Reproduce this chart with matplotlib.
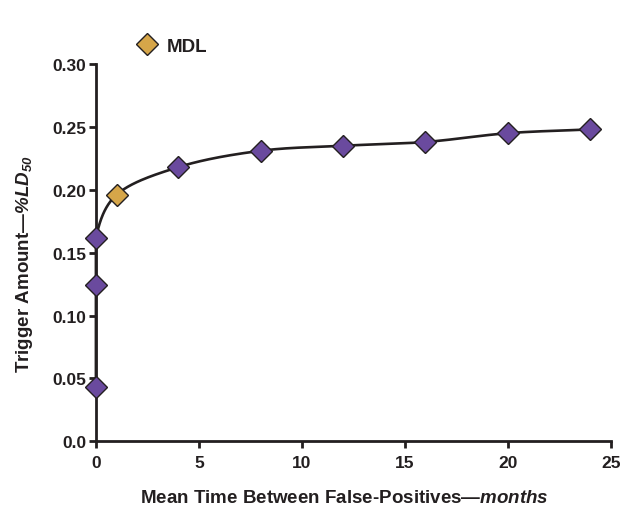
import numpy as np
import matplotlib
matplotlib.use("Agg")
import matplotlib.pyplot as plt
from matplotlib.lines import Line2D

plt.rcParams['font.family'] = ['Liberation Sans', 'DejaVu Sans']
plt.rcParams['font.weight'] = 'bold'
plt.rcParams['mathtext.fontset'] = 'custom'
plt.rcParams['mathtext.it'] = 'Liberation Sans:italic:bold'
plt.rcParams['mathtext.rm'] = 'Liberation Sans:italic:bold'

# data
months = [0, 0, 0, 1, 4, 8, 12, 16, 20, 24]
trigger = [0.043, 0.124, 0.162, 0.196, 0.218, 0.231, 0.235, 0.238, 0.245, 0.248]
is_mdl = [False, False, False, True, False, False, False, False, False, False]

x_ticks = [0, 5, 10, 15, 20, 25]
y_ticks = [0.0, 0.05, 0.10, 0.15, 0.20, 0.25, 0.30]
y_tick_labels = ["0.0", "0.05", "0.10", "0.15", "0.20", "0.25", "0.30"]

purple = '#6a4a9e'
gold = '#d6a649'
dark = '#231f20'


def catmull_rom(xs, ys, n=40):
    # centripetal Catmull-Rom through the points, in normalised units
    p = np.column_stack([np.array(xs) / 25.0, np.array(ys) / 0.30])
    p = np.vstack([2 * p[0] - p[1], p, 2 * p[-1] - p[-2]])
    out = []
    for i in range(1, len(p) - 2):
        p0, p1, p2, p3 = p[i - 1], p[i], p[i + 1], p[i + 2]
        t0 = 0.0
        t1 = t0 + np.linalg.norm(p1 - p0) ** 0.5
        t2 = t1 + np.linalg.norm(p2 - p1) ** 0.5
        t3 = t2 + np.linalg.norm(p3 - p2) ** 0.5
        t = np.linspace(t1, t2, n)[:, None]
        a1 = (t1 - t) / (t1 - t0) * p0 + (t - t0) / (t1 - t0) * p1
        a2 = (t2 - t) / (t2 - t1) * p1 + (t - t1) / (t2 - t1) * p2
        a3 = (t3 - t) / (t3 - t2) * p2 + (t - t2) / (t3 - t2) * p3
        b1 = (t2 - t) / (t2 - t0) * a1 + (t - t0) / (t2 - t0) * a2
        b2 = (t3 - t) / (t3 - t1) * a2 + (t - t1) / (t3 - t1) * a3
        c = (t2 - t) / (t2 - t1) * b1 + (t - t1) / (t2 - t1) * b2
        out.append(c)
    c = np.vstack(out)
    return np.clip(c[:, 0], 0, None) * 25.0, c[:, 1] * 0.30


fig = plt.figure(figsize=(6.31, 5.06), dpi=100)
ax = fig.add_axes([0.152, 0.126, 0.816, 0.7455])

cx, cy = catmull_rom(months, trigger)
ax.plot(cx, cy, color=dark, lw=1.9, zorder=2, clip_on=False)

for xv, yv, m in zip(months, trigger, is_mdl):
    ax.plot(xv, yv, marker='D', ms=11.5, mfc=gold if m else purple,
            mec=dark, mew=1.0, ls='none', zorder=3, clip_on=False)

ax.set_xlim(0, 25)
ax.set_ylim(0, 0.30)
ax.set_xticks(x_ticks)
ax.set_yticks(y_ticks)
ax.set_yticklabels(y_tick_labels)

for s in ['top', 'right']:
    ax.spines[s].set_visible(False)
for s in ['left', 'bottom']:
    ax.spines[s].set_linewidth(2.0)
    ax.spines[s].set_color(dark)
ax.tick_params(axis='both', direction='out', length=5, width=2.0, color=dark,
               labelsize=12.5, labelcolor=dark, pad=2)
ax.tick_params(axis='x', pad=5)
for lab in ax.get_xticklabels() + ax.get_yticklabels():
    lab.set_fontweight('bold')

ax.set_xlabel(r"Mean Time Between False-Positives—$months$",
              fontsize=13.5, fontweight='bold', color=dark)
ax.xaxis.set_label_coords(0.4835, -0.127)
ax.set_ylabel(r"Trigger Amount—$\%LD_{50}$",
              fontsize=13.5, fontweight='bold', color=dark)
ax.yaxis.set_label_coords(-0.118, 0.472)

handle = Line2D([], [], marker='D', ms=11.5, mfc=gold, mec=dark, mew=1.0, ls='none')
fig.legend([handle], ["MDL"], loc='center left', bbox_to_anchor=(0.185, 0.907),
           frameon=False, prop={'size': 13.5, 'weight': 'bold'},
           handletextpad=0.35, handlelength=1.4, labelcolor=dark)

fig.savefig("out.png", dpi=100)
